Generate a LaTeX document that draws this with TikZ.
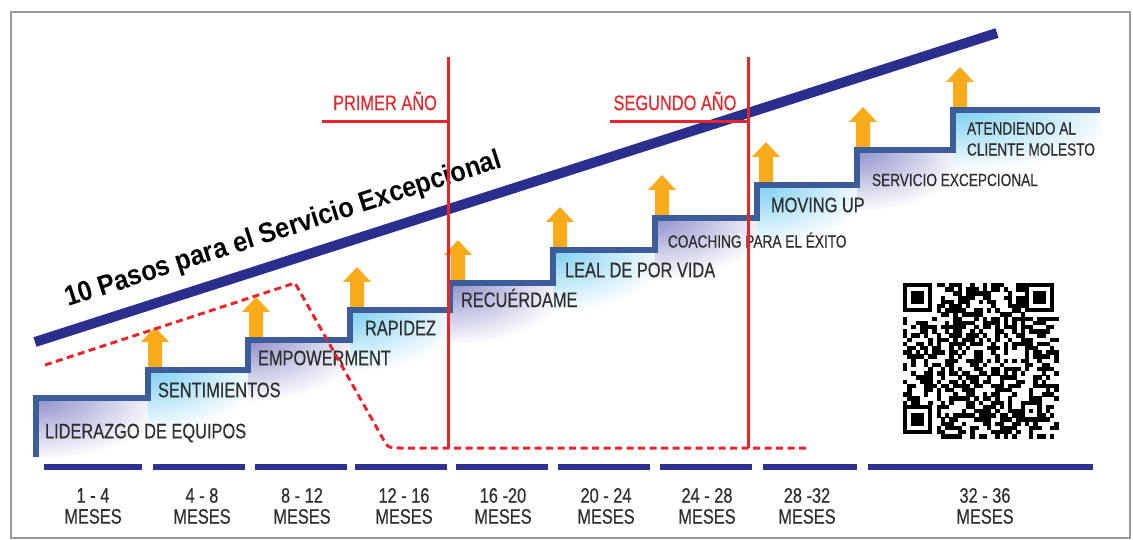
\documentclass[tikz,border=0pt]{standalone}
\usepackage{fontspec}
\newfontfamily\condfont[FakeStretch=0.78,FakeBold=0.4]{Liberation Sans}
\newfontfamily\titlefont[FakeStretch=0.9]{Liberation Sans}
\usepackage{tikz}
\definecolor{navyline}{HTML}{2C2E8E}
\definecolor{stepblue}{HTML}{3D5C9A}
\definecolor{barblue}{HTML}{2E3192}
\definecolor{arroworange}{HTML}{F9AB1B}
\definecolor{redline}{HTML}{E5262C}
\definecolor{lilac}{HTML}{8F90CB}
\definecolor{skyfill}{HTML}{7CCFF1}
\definecolor{lbltext}{HTML}{2E2E2E}
\definecolor{framegray}{HTML}{9A9A9A}
% soft fill under a step: colour, x, y, width
\newcommand\stepshade[4]{%
   \begin{scope}
      \clip (#2,#3) rectangle ++(#4,60);
      \shade[inner color=#1,outer color=white] (#2,#3) ellipse ({1.15*#4} and 62);
   \end{scope}}

\begin{document}
\begin{tikzpicture}[x=1pt,y=-1pt,
   every node/.style={outer sep=0,inner sep=0},
   steplbl/.style={anchor=west,text=lbltext,font=\condfont\fontsize{21}{21}\selectfont},
   smalllbl/.style={anchor=west,text=lbltext,align=left,
      font=\condfont\fontsize{17.5}{21}\selectfont},
   meslbl/.style={text=lbltext,align=center,font=\condfont\fontsize{21}{21}\selectfont},
   yearlbl/.style={text=redline,font=\condfont\fontsize{21}{21}\selectfont},
   bar/.style={barblue,line width=6pt},
   yearline/.style={redline,line width=3pt},
   uparrow/.pic={\fill[arroworange] (-7,0) -- (-7,-26) -- (-14,-26) -- (0,-41)
      -- (14,-26) -- (7,-26) -- (7,0) -- cycle;},
   finder/.pic={\fill (0,0) rectangle (29.4,29.4);
      \fill[white] (4.2,4.2) rectangle (25.2,25.2);
      \fill (8.4,8.4) rectangle (21,21);}]
   \useasboundingbox (0,0) rectangle (1133,540);
   \draw[framegray,line width=2pt] (11,12) rectangle (1130,538);

   % shaded steps
   \stepshade{lilac}{36}{398}{112}
   \stepshade{skyfill}{148}{370}{100}
   \stepshade{lilac}{248}{340}{102}
   \stepshade{skyfill}{350}{310}{100}
   \stepshade{lilac}{450}{283}{103}
   \stepshade{skyfill}{553}{250}{102}
   \stepshade{lilac}{655}{218}{102}
   \stepshade{skyfill}{757}{185}{100}
   \stepshade{lilac}{857}{150}{96}
   \stepshade{skyfill}{953}{110}{147}

   \pic at (155,368) {uparrow};
   \pic at (256,338) {uparrow};
   \pic at (357,308) {uparrow};
   \pic at (458,281) {uparrow};
   \pic at (560,248) {uparrow};
   \pic at (662,216) {uparrow};
   \pic at (766,183) {uparrow};
   \pic at (863,148) {uparrow};
   \pic at (960,108) {uparrow};

   \draw[stepblue,line width=5.5pt] (36,457) |- (148,398) |- (248,370) |- (350,340)
   |- (450,310) |- (553,283) |- (655,250) |- (757,218) |- (857,185) |- (953,150)
   |- (1100,110);

   \node[steplbl] (lider) at (45,433) {LIDERAZGO DE EQUIPOS};
   \node[steplbl] (senti) at (158,390) {SENTIMIENTOS};
   \node[steplbl] (empow) at (258,358) {EMPOWERMENT};
   \node[steplbl] (rapid) at (365,328) {RAPIDEZ};
   \node[steplbl] (recue) at (461,298) {RECUÉRDAME};
   \node[steplbl] (leal) at (565,270) {LEAL DE POR VIDA};
   \node[smalllbl] (coach) at (668,240) {COACHING PARA EL ÉXITO};
   \node[steplbl] (moving) at (771,205) {MOVING UP};
   \node[smalllbl] (servi) at (872,180) {SERVICIO EXCEPCIONAL};
   \node[smalllbl] (atien) at (967,139) {ATENDIENDO AL\\CLIENTE MOLESTO};

   % service line
   \coordinate (L0) at (35,342);
   \coordinate (L1) at (997,33);
   \draw[navyline,line width=10pt] (L0) -- (L1);
   \node[anchor=base west,rotate=17.8,font=\titlefont\bfseries\fontsize{28}{28}\selectfont]
   (titulo) at (68,307) {10 Pasos para el Servicio Excepcional};

   % years
   \draw[redline,line width=3pt,dash pattern=on 7pt off 4.5pt]
   (45,365) -- (295,283) -- (382,437) .. controls (388,448) .. (400,448) -- (810,448);
   \draw[yearline] (448,57) -- (448,448);
   \draw[yearline] (748,57) -- (748,448);
   \draw[yearline] (322,122) -- (448,122);
   \draw[yearline] (610,122) -- (748,122);
   \node[yearlbl] (primer) at (385,101) {PRIMER AÑO};
   \node[yearlbl] (segundo) at (675,101) {SEGUNDO AÑO};

   % months
   \draw[bar] (44,467) -- (142,467);
   \draw[bar] (153,467) -- (245,467);
   \draw[bar] (255,467) -- (347,467);
   \draw[bar] (355,467) -- (447,467);
   \draw[bar] (456,467) -- (548,467);
   \draw[bar] (558,467) -- (650,467);
   \draw[bar] (660,467) -- (752,467);
   \draw[bar] (763,467) -- (857,467);
   \draw[bar] (868,467) -- (1093,467);
   \node[meslbl] (m1) at (93,506) {1 - 4\\MESES};
   \node[meslbl] (m2) at (202,506) {4 - 8\\MESES};
   \node[meslbl] (m3) at (302,506) {8 - 12\\MESES};
   \node[meslbl] (m4) at (404,506) {12 - 16\\MESES};
   \node[meslbl] (m5) at (503,506) {16 -20\\MESES};
   \node[meslbl] (m6) at (606,506) {20 - 24\\MESES};
   \node[meslbl] (m7) at (707,506) {24 - 28\\MESES};
   \node[meslbl] (m8) at (807,506) {28 -32\\MESES};
   \node[meslbl] (m9) at (985,506) {32 - 36\\MESES};

   % qr code
   \pgfmathsetseed{20}
   \foreach \i in {0,...,36}{
      \foreach \j in {0,...,36}{
         \pgfmathtruncatemacro\qzone{(\i<8 && \j<8) || (\i>28 && \j<8) || (\i<8 && \j>28)
            || (\i>27 && \i<33 && \j>27 && \j<33)}
         \pgfmathrandominteger\bit{0}{1}
         \ifnum\qzone=0 \ifnum\bit=1
            \fill (903+\i*4.2,283+\j*4.2) rectangle ++(4.3,4.3);
         \fi\fi
      }
   }
   \pic at (903,283) {finder};
   \pic at (1024.8,283) {finder};
   \pic at (903,404.8) {finder};
   \fill (1020.6,400.6) rectangle ++(21,21);
   \fill[white] (1024.8,404.8) rectangle ++(12.6,12.6);
   \fill (1029,409) rectangle ++(4.2,4.2);
\end{tikzpicture}
\end{document}
